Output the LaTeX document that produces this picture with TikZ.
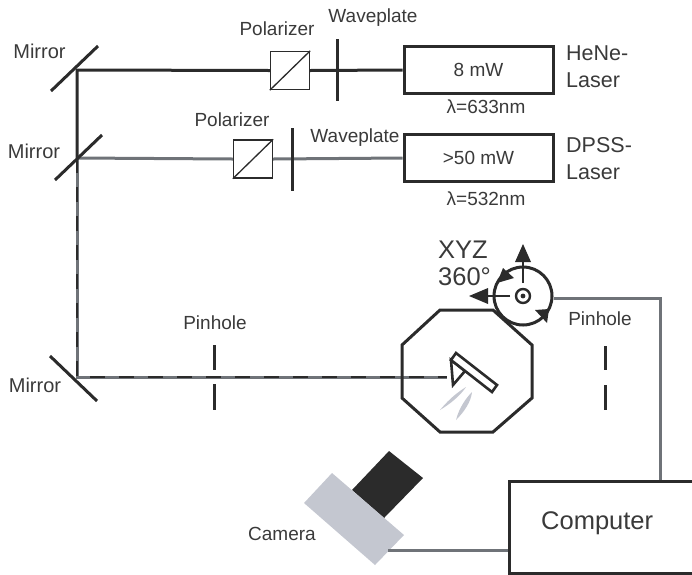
\documentclass[tikz,border=0pt]{standalone}
\usepackage{fontspec}
\setmainfont{Liberation Sans}
\definecolor{ink}{HTML}{2B2B2B}
\definecolor{beamgray}{HTML}{6F7378}
\definecolor{camgray}{HTML}{C4C7D0}
\definecolor{txt}{HTML}{3A3A3A}
\tikzset{
  lbl/.style={text=txt,font=\fontsize{19}{19}\selectfont,inner sep=0pt},
  lblbig/.style={text=txt,font=\fontsize{21.5}{21.5}\selectfont,inner sep=0pt},
  lblhuge/.style={text=txt,font=\fontsize{25.5}{25.5}\selectfont,inner sep=0pt},
  optic/.style={draw=ink,line width=3pt},
  beamdark/.style={draw=ink,line width=3pt},
  beamgrey/.style={draw=beamgray,line width=3pt},
  beamdash/.style={draw=ink,line width=2pt,dash pattern=on 15pt off 14pt},
  laser/.style={draw=ink,line width=3pt,fill=white,minimum width=149pt,minimum height=47pt,inner sep=0pt,text=txt,font=\fontsize{19}{19}\selectfont},
  polbox/.style={draw=ink,line width=1.3pt,fill=white,minimum width=39pt,minimum height=38pt,inner sep=0pt},
  pt/.style={coordinate}
}
\begin{document}
\begin{tikzpicture}[x=1pt,y=-1pt]
\useasboundingbox (0,0) rectangle (692,574);
% mirror turning points
\coordinate (m1) at (77,70);
\coordinate (m2) at (77,158);
\coordinate (m3) at (77,377);
\coordinate (samp) at (447,377);
% lasers and polarizers
\node[laser] (he) at (478.5,70) {8 mW};
\node[laser] (dp) at (478.5,158) {>50 mW};
\node[polbox] (p1) at (290,70.5) {};
\node[polbox] (p2) at (253,159) {};
% beams
\draw[beamdark] (he.west) -- (p1.east);
\draw[beamdark] (p1.west) -- (m1) -- (m2);
\draw[beamgrey] (dp.west) -- (p2.east);
\draw[beamgrey] (p2.west) -- (m2);
\draw[beamgrey] (m2) -- (m3) -- (samp);
\draw[beamdash] (m2) -- (m3) -- (samp);
% polarizer diagonals
\draw[draw=ink,line width=1.3pt] (p1.south west) -- (p1.north east);
\draw[draw=ink,line width=1.3pt] (p2.south west) -- (p2.north east);
% waveplates
\coordinate (w1a) at (337,39); \coordinate (w1b) at (337,101);
\coordinate (w2a) at (292,128); \coordinate (w2b) at (292,191);
\draw[optic] (w1a) -- (w1b);
\draw[optic] (w2a) -- (w2b);
% mirrors
\coordinate (ma1) at (51,91); \coordinate (mb1) at (98,46);
\coordinate (ma2) at (55,180); \coordinate (mb2) at (102,135);
\coordinate (ma3) at (50,356); \coordinate (mb3) at (97,401);
\draw[optic] (ma1) -- (mb1);
\draw[optic] (ma2) -- (mb2);
\draw[optic] (ma3) -- (mb3);
% pinholes
\draw[optic] (214,345) -- (214,370);
\draw[optic] (214,384) -- (214,410);
\draw[optic] (605,346) -- (605,370);
\draw[optic] (605,385) -- (605,410);
% chamber
\draw[optic] (440,310) -- (493,310) -- (532,345) -- (532,398) -- (493,432) -- (440,432) -- (402,398) -- (402,345) -- cycle;
% cantilever
\draw[draw=ink,line width=2.6pt,fill=white,line join=miter] (451,360) -- (453,385) -- (465,371) -- cycle;
\draw[draw=ink,line width=2.6pt,fill=white] (456,353) -- (497,385) -- (492,392) -- (451,360) -- cycle;
% reflected light
\fill[camgray] (440,410) .. controls (450,398) and (458,392) .. (466,387) .. controls (460,396) and (450,404) .. (440,410) -- cycle;
\fill[camgray] (456,420) .. controls (459,408) and (466,398) .. (472,392) .. controls (471,402) and (464,412) .. (456,420) -- cycle;
% stage
\node[circle,draw=ink,line width=3pt,fill=white,minimum size=58pt,inner sep=0pt] (stage) at (523,296) {};
\node[circle,draw=ink,line width=2.4pt,fill=white,minimum size=14pt,inner sep=0pt] (axis) at (523,296) {};
\fill[ink] (axis.center) circle (2.4pt);
\coordinate (upT) at (523,244);
\coordinate (upB) at (523,283);
\coordinate (leT) at (469,296);
\coordinate (leB) at (510,296);
\draw[draw=ink,line width=2.6pt] (upB) -- (523,258);
\fill[ink] (upT) -- (531,262) -- (515,262) -- cycle;
\draw[draw=ink,line width=2.6pt] (leB) -- (485,296);
\fill[ink] (leT) -- (488,288) -- (488,304) -- cycle;
\fill[ink] (503,268) -- (514,278) -- (497,283) -- cycle;
\fill[ink] (547,323) -- (535,310) -- (549,309) -- cycle;
% computer
\node[draw=ink,line width=3pt,fill=white,anchor=north west,minimum width=200pt,minimum height=92pt,inner sep=0pt] (pc) at (507.5,480) {};
\node[lblhuge,anchor=west] (pct) at (541,523) {Computer};
% camera
\fill[ink] (352,490) -- (389,451) -- (423,478) -- (384,518) -- cycle;
\fill[camgray] (332,473) -- (404,535) -- (375,565) -- (304,503) -- cycle;
\coordinate (camout) at (388,550);
% connectors
\draw[beamgrey] (stage.east) ++(0,2) -- (660,298) -- (660,480);
\draw[beamgrey] (camout) -- (pc.west |- camout);
% labels
\node[lbl,font=\fontsize{20}{20}\selectfont] (t1) at (39.5,51) {Mirror};
\node[lbl,font=\fontsize{20}{20}\selectfont] (t2) at (34,151) {Mirror};
\node[lbl,font=\fontsize{20}{20}\selectfont] (t3) at (35,385) {Mirror};
\node[lbl] (t4) at (277,29) {Polarizer};
\node[lbl] (t5) at (373,18) {Waveplate};
\node[lbl] (t6) at (232,120) {Polarizer};
\node[lbl] (t7) at (355,138) {Waveplate};
\node[lbl] (t8) at (486,107) {λ=633nm};
\node[lbl] (t9) at (486,199) {λ=532nm};
\node[lbl] (t10) at (215,323) {Pinhole};
\node[lbl] (t11) at (600,319) {Pinhole};
\node[lbl] (t12) at (282,534) {Camera};
\node[lblbig,anchor=west] (t13) at (566,53) {HeNe-};
\node[lblbig,anchor=west] (t14) at (566,80) {Laser};
\node[lblbig,anchor=west] (t15) at (566,145) {DPSS-};
\node[lblbig,anchor=west] (t16) at (566,172) {Laser};
\node[lblhuge,anchor=west] (t17) at (438,250) {XYZ};
\node[lblhuge,anchor=west] (t18) at (438,277) {360°};
\end{tikzpicture}
\end{document}
